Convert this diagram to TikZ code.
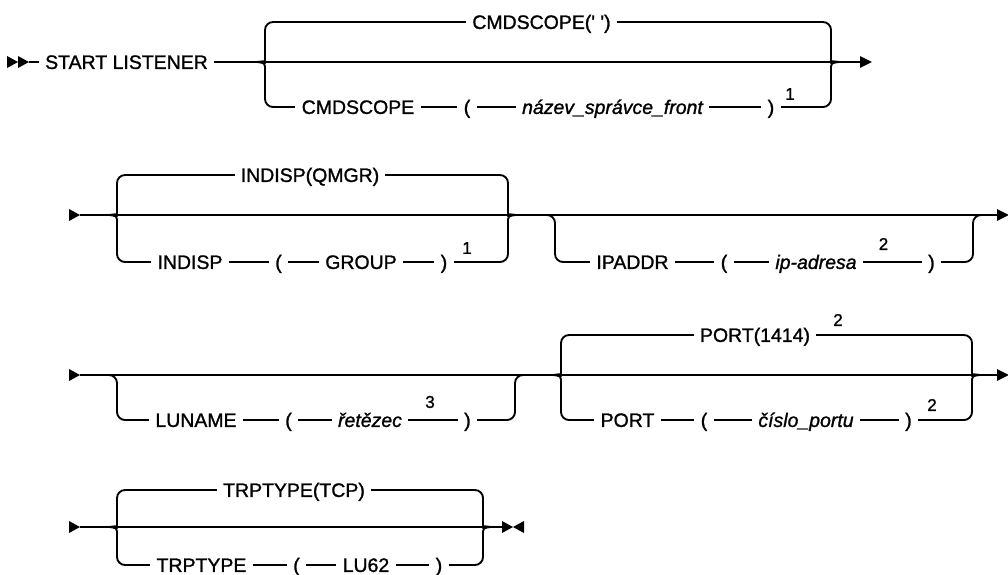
\documentclass[tikz,border=0pt]{standalone}
\usepackage{fontspec}
\setmainfont{Liberation Sans}[FakeBold=1.2]
\usetikzlibrary{arrows.meta}

\def\railfont{\fontsize{14.6}{16}\selectfont}
\def\notefont{\fontsize{12.8}{14}\selectfont}
\tikzset{
	rail/.style={line width=1.4pt},
	railarrow/.style={-{Triangle[length=9pt,width=8.5pt]}},
	keyword/.style={inner xsep=4.5pt, inner ysep=0pt, text height=10.4pt, text depth=0pt, font=\railfont},
	param/.style={keyword, font=\railfont\itshape},
	fnote/.style={inner sep=0pt, font=\notefont},
}
% solid triangles of the rail ends
\def\tipright(#1,#2){\fill (#1-11,#2-6) -- (#1,#2) -- (#1-11,#2+6) -- cycle;}
\def\tipleft(#1,#2){\fill (#1+11,#2-6) -- (#1,#2) -- (#1+11,#2+6) -- cycle;}
% brace of a choice: spine x, top branch, main line, bottom branch
\def\forkin#1(#2:#3:#4:#5){
	\coordinate (#1-t) at (#2+9,#3);
	\coordinate (#1-b) at (#2+9,#5);
	\draw[rail,rounded corners=6pt] (#1-t) -- (#2,#3) -- (#2,#4-8) [sharp corners] .. controls (#2,#4-1) .. (#2-8,#4) .. controls (#2,#4+1) .. (#2,#4+8) [rounded corners=6pt] -- (#2,#5) -- (#1-b);}
\def\forkout#1(#2:#3:#4:#5){
	\coordinate (#1-t) at (#2-9,#3);
	\coordinate (#1-b) at (#2-9,#5);
	\draw[rail,rounded corners=6pt] (#1-t) -- (#2,#3) -- (#2,#4-8) [sharp corners] .. controls (#2,#4-1) .. (#2+8,#4) .. controls (#2,#4+1) .. (#2,#4+8) [rounded corners=6pt] -- (#2,#5) -- (#1-b);}
% optional branch below the main line: spine x, main line, branch
\def\dropin#1(#2:#3:#4){
	\coordinate (#1-b) at (#2+9,#4);
	\draw[rail,rounded corners=6pt] (#2-9,#3) -- (#2,#3) -- (#2,#4) -- (#1-b);}
\def\dropout#1(#2:#3:#4){
	\coordinate (#1-b) at (#2-9,#4);
	\draw[rail,rounded corners=6pt] (#1-b) -- (#2,#4) -- (#2,#3) -- (#2+9,#3);}

\begin{document}
\begin{tikzpicture}[x=0.75pt,y=-0.75pt]
	%%%%% START %%%%%
	\useasboundingbox (0,0) rectangle (1008,575);
	
	% START LISTENER, CMDSCOPE
	\tipright(18,62) \tipright(29,62)
	\coordinate (r1a) at (29,62);
	\coordinate (r1z) at (872,62);
	\node[keyword] (start) at (126.5,62) {START LISTENER};
	\draw[rail] (r1a) -- (start);
	\draw[rail,railarrow] (start) -- (r1z);
	
	\forkin{f1}(265:22:62:107)
	\forkout{f1r}(831:22:62:107)
	\node[keyword] (cmdq) at (541.5,22) {CMDSCOPE(\textquotesingle\ \textquotesingle)};
	\node[keyword] (cmd) at (358,107) {CMDSCOPE};
	\node[keyword] (lp1) at (467,107) {(};
	\node[param] (qmname) at (612.5,107) {název\_správce\_front};
	\node[keyword] (rp1) at (771,107) {)};
	\node[fnote] (fn1) at (790,94) {1};
	\draw[rail] (f1-t) -- (cmdq) -- (f1r-t);
	\draw[rail] (f1-b) -- (cmd) -- (lp1) -- (qmname) -- (rp1) -- (f1r-b);
	
	% INDISP, IPADDR
	\tipright(80,215)
	\coordinate (r2a) at (80,215);
	\coordinate (r2z) at (1009,215);
	\draw[rail,railarrow] (r2a) -- (r2z);
	
	\forkin{f2}(117:175:215:262)
	\forkout{f2r}(508:175:215:262)
	\node[keyword] (indq) at (310,175) {INDISP(QMGR)};
	\node[keyword] (ind) at (190,262) {INDISP};
	\node[keyword] (lp2) at (278.5,262) {(};
	\node[keyword] (grp) at (361,262) {GROUP};
	\node[keyword] (rp2) at (444,262) {)};
	\node[fnote] (fn2) at (467,248) {1};
	\draw[rail] (f2-t) -- (indq) -- (f2r-t);
	\draw[rail] (f2-b) -- (ind) -- (lp2) -- (grp) -- (rp2) -- (f2r-b);
	
	\dropin{o1}(555:215:262)
	\dropout{o1r}(973:215:262)
	\node[keyword] (ipa) at (632.5,262) {IPADDR};
	\node[keyword] (lp3) at (724,262) {(};
	\node[param] (ipaddr) at (816,262) {ip-adresa};
	\node[fnote] (fn3) at (883.5,244) {2};
	\node[keyword] (rp3) at (931.5,262) {)};
	\draw[rail] (o1-b) -- (ipa) -- (lp3) -- (ipaddr) -- (rp3) -- (o1r-b);
	
	% LUNAME, PORT
	\tipright(80,375)
	\coordinate (r3a) at (80,375);
	\coordinate (r3z) at (1009,375);
	\draw[rail,railarrow] (r3a) -- (r3z);
	
	\dropin{o2}(117:375:420)
	\dropout{o2r}(515:375:420)
	\node[keyword] (lu) at (196,420) {LUNAME};
	\node[keyword] (lp4) at (288.5,420) {(};
	\node[param] (lustr) at (370,420) {řetězec};
	\node[fnote] (fn4) at (430,402) {3};
	\node[keyword] (rp4) at (467.5,420) {)};
	\draw[rail] (o2-b) -- (lu) -- (lp4) -- (lustr) -- (rp4) -- (o2r-b);
	
	\forkin{f4}(561:335:375:420)
	\forkout{f4r}(972:335:375:420)
	\node[keyword] (portd) at (755,335) {PORT(1414)};
	\node[fnote] (fn5) at (838,320) {2};
	\node[keyword] (port) at (627.5,420) {PORT};
	\node[keyword] (lp5) at (704,420) {(};
	\node[param] (portno) at (806,420) {číslo\_portu};
	\node[keyword] (rp5) at (908.5,420) {)};
	\node[fnote] (fn6) at (932,405) {2};
	\draw[rail] (f4-t) -- (portd) -- (f4r-t);
	\draw[rail] (f4-b) -- (port) -- (lp5) -- (portno) -- (rp5) -- (f4r-b);
	
	% TRPTYPE
	\tipright(80,527)
	\coordinate (r4a) at (80,527);
	\coordinate (r4z) at (502,527);
	\draw[rail] (r4a) -- (r4z);
	\tipright(513,527) \tipleft(513,527)
	
	\forkin{f5}(117:490:527:565)
	\forkout{f5r}(483:490:527:565)
	\node[keyword] (trpd) at (294,490) {TRPTYPE(TCP)};
	\node[keyword] (trp) at (201.5,565) {TRPTYPE};
	\node[keyword] (lp6) at (296.5,565) {(};
	\node[keyword] (lu62) at (366,565) {LU62};
	\node[keyword] (rp6) at (439,565) {)};
	\draw[rail] (f5-t) -- (trpd) -- (f5r-t);
	\draw[rail] (f5-b) -- (trp) -- (lp6) -- (lu62) -- (rp6) -- (f5r-b);
	%%%%% END %%%%%
\end{tikzpicture}
\end{document}
